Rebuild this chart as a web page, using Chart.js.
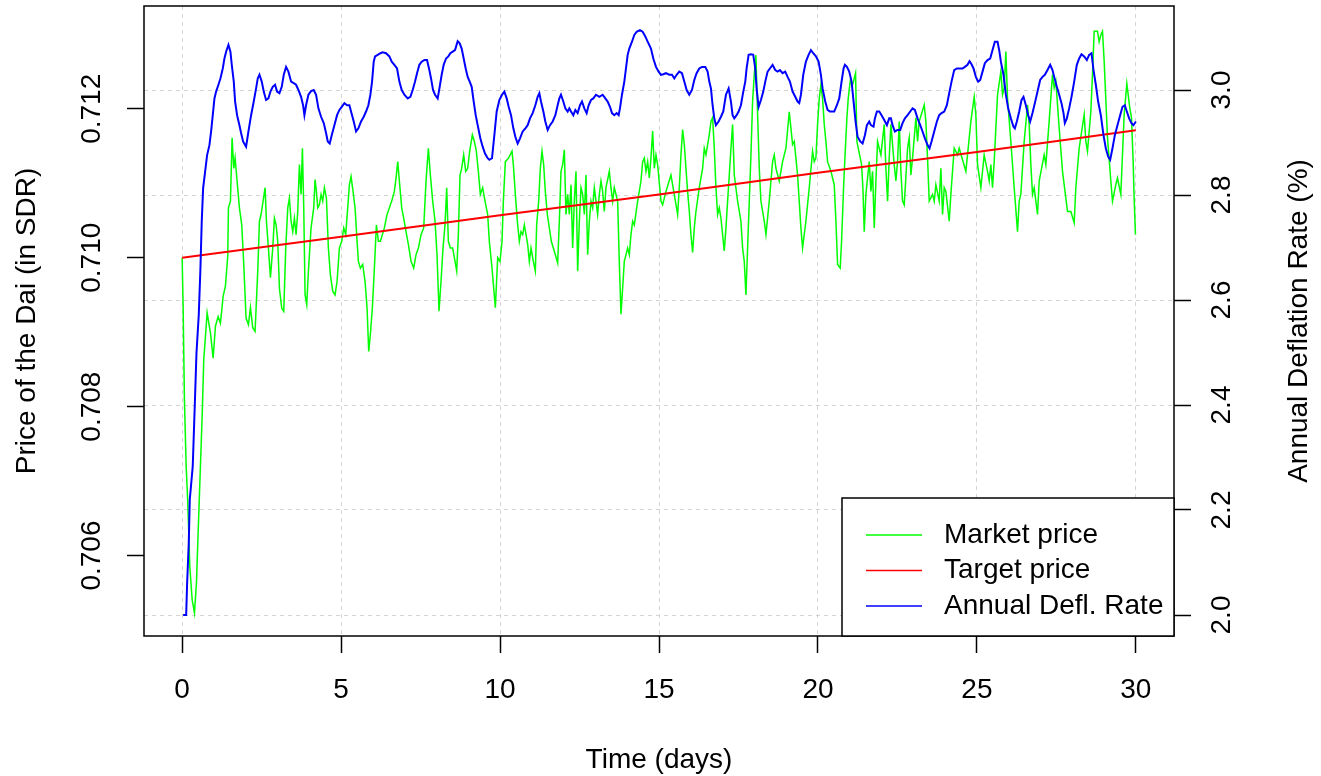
<!DOCTYPE html>
<html>
<head>
<meta charset="utf-8">
<title>Price of the Dai</title>
<script src="https://cdn.jsdelivr.net/npm/chart.js@4.4.1/dist/chart.umd.min.js"></script>
<style>
  html, body { margin: 0; padding: 0; background: #fff; }
  canvas { display: block; }
</style>
</head>
<body>
<canvas id="grafica" width="1321" height="776"></canvas>
<script>
const xTicks = [0, 5, 10, 15, 20, 25, 30];
const priceTicks = [0.706, 0.708, 0.710, 0.712];
const rateTicks = [2.0, 2.2, 2.4, 2.6, 2.8, 3.0];
const seriesNames = ["Market price", "Target price", "Annual Defl. Rate"];

// [day, price in SDR]
const marketPrice = [
  [0.000,0.71000],[0.030,0.70935],[0.072,0.70809],[0.126,0.70720],[0.176,0.70673],[0.240,0.70586],[0.314,0.70541],[0.387,0.70523],[0.450,0.70563],[0.503,0.70631],[0.575,0.70720],[0.629,0.70787],[0.680,0.70863],[0.786,0.70926],[0.890,0.70899],[0.975,0.70865],[1.047,0.70908],[1.132,0.70921],[1.204,0.70912],[1.289,0.70948],[1.362,0.70962],[1.434,0.71002],[1.456,0.71067],[1.519,0.71076],
  [1.571,0.71161],[1.624,0.71120],[1.666,0.71134],[1.728,0.71103],[1.802,0.71067],[1.875,0.71044],[1.938,0.70991],[2.011,0.70919],[2.085,0.70910],[2.148,0.70933],[2.221,0.70906],[2.294,0.70901],[2.378,0.70982],[2.431,0.71049],[2.483,0.71058],[2.546,0.71076],[2.609,0.71094],[2.651,0.71049],[2.714,0.71013],[2.777,0.70973],[2.850,0.71013],[2.902,0.71053],[2.955,0.71044],[3.007,0.71022],[3.060,0.70959],[3.133,0.70932],[3.196,0.70928],[3.259,0.71013],[3.322,0.71067],[3.374,0.71080],[3.426,0.71049],[3.479,0.71035],[3.531,0.71053],[3.584,0.71031],[3.636,0.71062],[3.689,0.71125],[3.741,0.71085],[3.783,0.71147],[3.825,0.71067],[3.867,0.70950],[3.919,0.70937],[3.972,0.70982],[4.055,0.71040],[4.139,0.71067],[4.181,0.71105],[4.223,0.71089],[4.265,0.71067],[4.317,0.71071],[4.370,0.71085],[4.422,0.71076],[4.475,0.71094],[4.538,0.71080],[4.600,0.71013],[4.663,0.70977],[4.737,0.70955],[4.810,0.70950],[4.873,0.70968],[4.946,0.71013],[5.020,0.71022],[5.083,0.71040],[5.146,0.71031],[5.208,0.71067],[5.261,0.71098],[5.313,0.71109],[5.376,0.71089],[5.439,0.71067],[5.502,0.71022],[5.544,0.70995],[5.607,0.70986],[5.680,0.70991],[5.754,0.70968],[5.816,0.70933],[5.869,0.70874],[5.921,0.70897],[5.984,0.70933],[6.047,0.70986],[6.110,0.71044],[6.173,0.71022],[6.236,0.71022],[6.298,0.71031],[6.361,0.71040],[6.445,0.71058],[6.519,0.71067],[6.592,0.71076],[6.676,0.71089],[6.739,0.71111],[6.781,0.71129],[6.833,0.71103],[6.907,0.71067],[6.969,0.71053],[7.043,0.71035],[7.116,0.71018],[7.200,0.70995],[7.284,0.70986],[7.357,0.71004],[7.431,0.71013],[7.515,0.71031],[7.598,0.71040],[7.672,0.71103],[7.745,0.71147],[7.808,0.71111],[7.881,0.71076],[7.955,0.71049],[8.017,0.71004],[8.080,0.70928],[8.143,0.70968],[8.206,0.71013],[8.269,0.71044],[8.322,0.71094],[8.374,0.71022],[8.437,0.71013],[8.510,0.71013],[8.584,0.70995],[8.636,0.70982],[8.688,0.71031],[8.741,0.71111],[8.793,0.71120],[8.856,0.71138],[8.919,0.71116],[8.982,0.71120],[9.045,0.71143],[9.129,0.71165],[9.192,0.71156],[9.254,0.71143],[9.317,0.71116],[9.380,0.71085],[9.453,0.71094],[9.527,0.71076],[9.611,0.71058],[9.663,0.71022],
  [9.747,0.70986],[9.852,0.70933],[9.926,0.71000],[9.999,0.70995],[10.062,0.71022],[10.104,0.71076],[10.167,0.71129],[10.271,0.71134],[10.376,0.71143],[10.418,0.71125],[10.481,0.71085],[10.544,0.71049],[10.607,0.71022],[10.659,0.71035],[10.712,0.71031],[10.764,0.71044],[10.817,0.71031],[10.869,0.71018],[10.921,0.70995],[10.974,0.71013],[11.047,0.70995],[11.110,0.70982],[11.152,0.71044],[11.215,0.71076],[11.267,0.71120],[11.320,0.71143],[11.372,0.71125],[11.424,0.71089],[11.487,0.71058],[11.550,0.71040],[11.613,0.71022],[11.676,0.71013],[11.739,0.71004],[11.812,0.70993],[11.865,0.71049],[11.917,0.71116],[11.970,0.71125],[12.022,0.71145],[12.074,0.71058],[12.127,0.71085],[12.179,0.71058],[12.232,0.71098],[12.284,0.71013],[12.336,0.71076],[12.389,0.71116],[12.441,0.70982],[12.494,0.71049],[12.546,0.71094],[12.599,0.71085],[12.651,0.71058],[12.703,0.71111],[12.756,0.71004],[12.808,0.71049],[12.861,0.71076],[12.913,0.71067],[12.965,0.71094],[13.018,0.71076],[13.070,0.71058],[13.123,0.71085],[13.175,0.71103],[13.227,0.71089],[13.280,0.71062],[13.332,0.71094],[13.437,0.71116],[13.489,0.71094],[13.542,0.71076],[13.594,0.71094],[13.699,0.71076],[13.751,0.70995],[13.804,0.70924],[13.856,0.70959],[13.909,0.70995],[14.014,0.71013],[14.066,0.71004],[14.118,0.71031],[14.171,0.71049],[14.223,0.71044],[14.328,0.71076],[14.433,0.71103],[14.485,0.71129],[14.538,0.71134],[14.590,0.71116],[14.643,0.71129],[14.695,0.71107],[14.747,0.71134],[14.800,0.71170],[14.852,0.71120],[14.905,0.71138],[14.957,0.71125],[15.062,0.71076],[15.114,0.71071],[15.219,0.71089],[15.376,0.71111],[15.481,0.71085],[15.586,0.71058],[15.638,0.71094],[15.691,0.71138],[15.743,0.71172],[15.796,0.71152],[15.848,0.71120],[15.900,0.71089],[15.953,0.71062],[16.005,0.71031],[16.058,0.71007],[16.110,0.71040],[16.162,0.71062],[16.267,0.71094],[16.372,0.71120],[16.424,0.71147],[16.477,0.71138],[16.581,0.71165],[16.634,0.71183],[16.686,0.71188],[16.739,0.71147],[16.791,0.71094],[16.844,0.71058],[16.896,0.71067],[16.949,0.71053],[17.053,0.71009],[17.106,0.71040],[17.158,0.71076],[17.211,0.71111],[17.263,0.71147],[17.315,0.71179],[17.368,0.71111],[17.473,0.71076],[17.577,0.71049],[17.630,0.71013],[17.682,0.70995],[17.735,0.70950],[17.787,0.71013],[17.840,0.71076],[17.892,0.71138],[17.944,0.71210],[17.997,0.71246],[18.049,0.71272],[18.102,0.71192],[18.154,0.71120],[18.206,0.71076],[18.311,0.71049],[18.364,0.71031],[18.468,0.71076],[18.573,0.71129],[18.626,0.71138],[18.678,0.71120],[18.783,0.71103],[18.888,0.71129],[18.993,0.71147],[19.097,0.71196],[19.150,0.71174],[19.202,0.71152],[19.255,0.71156],[19.359,0.71111],[19.464,0.71040],[19.517,0.71013],[19.621,0.71049],[19.726,0.71094],[19.831,0.71143],[19.883,0.71129],[19.936,0.71134],[19.988,0.71179],[20.041,0.71214],[20.093,0.71232],[20.145,0.71214],[20.198,0.71179],[20.250,0.71156],[20.303,0.71129],[20.408,0.71116],[20.512,0.71098],
  [20.565,0.71049],[20.618,0.70991],[20.701,0.70986],[20.743,0.71022],[20.806,0.71094],[20.848,0.71134],[20.911,0.71188],[20.953,0.71214],[21.016,0.71237],[21.089,0.71232],[21.183,0.71248],[21.225,0.71156],[21.330,0.71134],[21.372,0.71125],[21.414,0.71094],[21.456,0.71035],[21.508,0.71085],[21.613,0.71129],[21.666,0.71089],[21.718,0.71116],[21.771,0.71040],[21.823,0.71103],[21.875,0.71156],[21.980,0.71138],[22.085,0.71179],[22.137,0.71120],[22.190,0.71076],[22.242,0.71134],[22.295,0.71179],[22.399,0.71125],[22.452,0.71103],[22.504,0.71129],[22.557,0.71183],[22.609,0.71116],[22.661,0.71076],[22.714,0.71071],[22.819,0.71147],[22.871,0.71161],[22.923,0.71111],[22.976,0.71134],[23.081,0.71188],[23.133,0.71156],[23.185,0.71183],[23.343,0.71205],[23.395,0.71183],[23.447,0.71134],[23.500,0.71076],[23.605,0.71085],[23.657,0.71076],[23.710,0.71098],[23.814,0.71076],[23.867,0.71120],[23.919,0.71058],[23.972,0.71094],[24.024,0.71089],[24.129,0.71049],[24.181,0.71085],[24.286,0.71147],[24.391,0.71138],[24.443,0.71147],[24.653,0.71116],[24.705,0.71138],[24.810,0.71183],[24.915,0.71216],[24.967,0.71192],[25.020,0.71125],[25.125,0.71094],[25.229,0.71138],[25.334,0.71116],[25.387,0.71103],[25.439,0.71125],[25.491,0.71094],[25.544,0.71129],[25.649,0.71219],[25.754,0.71250],[25.806,0.71219],[25.858,0.71228],[25.911,0.71277],[25.963,0.71214],[26.068,0.71156],[26.173,0.71094],[26.278,0.71035],[26.330,0.71076],[26.382,0.71085],[26.487,0.71156],[26.592,0.71205],[26.645,0.71179],[26.697,0.71125],[26.749,0.71085],[26.802,0.71094],[26.907,0.71058],[26.959,0.71103],[27.116,0.71138],[27.169,0.71125],[27.273,0.71183],[27.378,0.71246],[27.431,0.71228],[27.483,0.71237],[27.588,0.71174],[27.693,0.71116],[27.850,0.71062],[27.955,0.71062],[28.060,0.71047],[28.112,0.71094],[28.217,0.71147],[28.374,0.71192],[28.427,0.71156],[28.479,0.71143],[28.584,0.71196],[28.636,0.71246],[28.689,0.71304],[28.793,0.71304],[28.846,0.71290],[28.898,0.71299],[28.951,0.71304],[29.003,0.71264],[29.108,0.71161],[29.213,0.71103],[29.265,0.71076],[29.370,0.71098],[29.422,0.71107],[29.527,0.71085],[29.632,0.71192],[29.716,0.71234],[29.810,0.71201],[29.863,0.71188],[29.915,0.71129],[29.946,0.71080],[29.988,0.71031]
];

const targetPrice = [
  [0,0.71000],[5,0.71028],[10,0.71057],[15,0.71085],[20,0.71114],[25,0.71142],[30,0.71171]
];

// [day, annual deflation rate in %]
const deflRate = [
  [0.030,2.000],[0.126,2.000],[0.157,2.061],[0.208,2.137],[0.239,2.219],[0.333,2.283],[0.396,2.397],[0.450,2.498],[0.522,2.571],[0.575,2.660],[0.616,2.749],[0.660,2.813],[0.722,2.844],[0.785,2.876],[0.858,2.895],[0.911,2.921],[0.963,2.952],[1.016,2.984],[1.068,2.997],[1.141,3.010],[1.204,3.022],[1.278,3.041],[1.330,3.060],[1.383,3.073],[1.456,3.086],[1.519,3.073],[1.561,3.048],[1.624,3.016],[1.666,2.978],[1.728,2.952],[1.802,2.933],[1.854,2.918],[1.917,2.902],[2.011,2.892],[2.085,2.921],[2.169,2.952],[2.252,2.978],[2.326,3.003],[2.378,3.022],[2.431,3.029],[2.504,3.016],[2.567,2.997],[2.640,2.981],[2.714,2.984],[2.777,2.997],[2.850,3.006],[2.923,3.010],[2.986,2.997],[3.060,2.994],[3.133,3.006],[3.196,3.029],[3.269,3.044],[3.343,3.035],[3.427,3.016],[3.510,3.013],[3.584,3.010],[3.657,3.000],[3.741,2.987],[3.804,2.971],[3.846,2.952],[3.898,2.971],[3.972,2.991],[4.055,2.998],[4.139,3.000],[4.213,2.991],[4.286,2.965],[4.370,2.949],[4.454,2.937],[4.527,2.918],[4.580,2.902],[4.642,2.898],[4.705,2.914],[4.789,2.933],[4.873,2.952],[4.946,2.962],[5.020,2.968],[5.104,2.975],[5.188,2.971],[5.261,2.971],[5.313,2.959],[5.397,2.940],[5.471,2.921],[5.544,2.927],[5.628,2.940],[5.712,2.949],[5.785,2.959],[5.858,2.971],[5.921,2.991],[5.974,3.016],[6.026,3.054],[6.068,3.064],[6.152,3.067],[6.236,3.070],[6.309,3.072],[6.414,3.070],[6.519,3.064],[6.592,3.054],[6.676,3.048],[6.760,3.041],[6.833,3.016],[6.907,3.000],[6.990,2.991],[7.095,2.984],[7.179,2.987],[7.252,3.000],[7.326,3.016],[7.389,3.032],[7.462,3.048],[7.535,3.054],[7.619,3.057],[7.703,3.057],[7.776,3.038],[7.829,3.022],[7.892,3.000],[7.955,2.991],[8.038,2.984],[8.101,3.006],[8.164,3.029],[8.227,3.048],[8.301,3.060],[8.374,3.064],[8.437,3.070],[8.510,3.073],[8.584,3.076],[8.667,3.093],[8.730,3.089],[8.793,3.079],[8.856,3.060],[8.919,3.041],[8.982,3.025],[9.045,3.016],[9.108,3.006],[9.171,2.978],[9.234,2.952],[9.296,2.933],[9.380,2.908],[9.453,2.892],[9.527,2.879],[9.611,2.870],[9.663,2.867],
  [9.747,2.870],[9.821,2.914],[9.894,2.959],[9.978,2.981],[10.062,2.991],[10.135,2.997],[10.209,2.984],[10.271,2.968],[10.345,2.952],[10.418,2.927],[10.481,2.911],[10.554,2.898],[10.628,2.908],[10.712,2.921],[10.796,2.927],[10.869,2.933],[10.942,2.946],[11.026,2.956],[11.110,2.971],[11.183,2.987],[11.236,2.994],[11.288,2.978],[11.362,2.959],[11.424,2.940],[11.498,2.924],[11.571,2.933],[11.655,2.940],[11.739,2.952],[11.812,2.971],[11.865,2.984],[11.917,2.991],[11.990,2.978],[12.053,2.965],[12.127,2.959],[12.179,2.965],[12.232,2.959],[12.305,2.952],[12.368,2.962],[12.441,2.956],[12.515,2.971],[12.578,2.978],[12.651,2.965],[12.724,2.956],[12.787,2.971],[12.861,2.981],[12.934,2.984],[13.018,2.991],[13.123,2.987],[13.227,2.991],[13.311,2.984],[13.385,2.978],[13.458,2.968],[13.521,2.956],[13.594,2.952],[13.668,2.956],[13.731,2.952],[13.772,2.965],[13.835,2.991],[13.909,3.016],[13.961,3.041],[14.014,3.067],[14.066,3.079],[14.150,3.092],[14.223,3.105],[14.297,3.111],[14.401,3.114],[14.485,3.111],[14.569,3.102],[14.643,3.092],[14.747,3.079],[14.821,3.060],[14.905,3.044],[14.988,3.035],[15.062,3.029],[15.135,3.030],[15.219,3.032],[15.324,3.029],[15.408,3.029],[15.481,3.022],[15.555,3.029],[15.638,3.035],[15.722,3.032],[15.796,3.016],[15.869,3.000],[15.953,2.991],[16.037,3.000],[16.110,3.019],[16.183,3.032],[16.267,3.041],[16.351,3.044],[16.456,3.044],[16.529,3.035],[16.582,3.016],[16.634,3.003],[16.686,2.971],[16.739,2.946],[16.791,2.933],[16.875,2.940],[16.949,2.949],[17.022,2.959],[17.106,2.991],[17.190,3.003],[17.263,2.978],[17.315,2.952],[17.368,2.946],[17.441,2.952],[17.504,2.959],[17.577,2.971],[17.651,2.997],[17.714,3.016],[17.756,3.041],[17.819,3.067],[17.892,3.068],[17.965,3.067],[18.028,3.041],[18.070,3.003],[18.133,2.968],[18.206,2.981],[18.280,2.997],[18.343,3.016],[18.416,3.035],[18.489,3.041],[18.573,3.048],[18.657,3.038],[18.730,3.035],[18.804,3.038],[18.888,3.032],[18.971,3.035],[19.045,3.025],[19.118,3.016],[19.202,2.997],[19.286,2.987],[19.359,2.978],[19.412,2.975],[19.464,2.991],[19.538,3.029],[19.621,3.054],[19.705,3.067],[19.779,3.076],[19.852,3.070],[19.936,3.064],[20.020,3.054],[20.093,3.029],[20.145,3.003],[20.229,2.978],[20.303,2.962],[20.376,2.959],[20.512,2.959],
  [20.596,2.971],[20.670,2.984],[20.743,3.016],[20.806,3.041],[20.848,3.048],[20.911,3.044],[20.984,3.035],[21.058,3.016],[21.121,2.978],[21.183,2.940],[21.246,2.911],[21.330,2.902],[21.404,2.898],[21.477,2.914],[21.540,2.933],[21.613,2.940],[21.666,2.933],[21.749,2.930],[21.791,2.946],[21.854,2.959],[21.928,2.959],[22.001,2.952],[22.085,2.943],[22.169,2.933],[22.242,2.946],[22.295,2.946],[22.347,2.933],[22.420,2.921],[22.504,2.924],[22.588,2.924],[22.661,2.937],[22.735,2.946],[22.819,2.952],[22.902,2.959],[22.976,2.965],[23.049,2.962],[23.133,2.946],[23.217,2.933],[23.290,2.921],[23.364,2.908],[23.448,2.895],[23.510,2.889],[23.573,2.902],[23.657,2.921],[23.741,2.940],[23.814,2.952],[23.888,2.956],[23.972,2.959],[24.055,2.971],[24.129,2.994],[24.202,3.016],[24.286,3.038],[24.370,3.041],[24.548,3.041],[24.621,3.044],[24.705,3.048],[24.768,3.055],[24.831,3.049],[24.894,3.041],[24.967,3.025],[25.041,3.016],[25.104,3.019],[25.177,3.035],[25.250,3.051],[25.334,3.057],[25.418,3.060],[25.492,3.076],[25.565,3.092],[25.649,3.092],[25.701,3.076],[25.754,3.054],[25.837,3.029],[25.911,2.991],[25.984,2.965],[26.068,2.946],[26.152,2.930],[26.194,2.927],[26.257,2.940],[26.330,2.959],[26.404,2.981],[26.466,2.987],[26.540,2.971],[26.613,2.952],[26.676,2.940],[26.749,2.956],[26.823,2.975],[26.907,2.997],[26.990,3.019],[27.064,3.025],[27.137,3.029],[27.221,3.038],[27.305,3.048],[27.378,3.038],[27.431,3.025],[27.515,3.006],[27.588,2.991],[27.661,2.975],[27.724,2.956],[27.766,2.937],[27.829,2.946],[27.902,2.965],[27.976,2.987],[28.060,3.016],[28.143,3.048],[28.217,3.060],[28.290,3.068],[28.374,3.064],[28.458,3.057],[28.531,3.067],[28.605,3.070],[28.668,3.038],[28.741,3.010],[28.814,2.978],[28.898,2.952],[28.982,2.914],[29.055,2.889],[29.129,2.873],[29.192,2.867],[29.265,2.889],[29.339,2.914],[29.422,2.933],[29.506,2.952],[29.580,2.968],[29.653,2.971],[29.716,2.959],[29.789,2.946],[29.863,2.937],[29.925,2.933],[30.000,2.940]
];

const FONT = '28px "Liberation Sans", Arial, sans-serif';
const colores = ["#00ff00", "#ff0000", "#0000ff"];

function textoVertical(ctx, txt, x, y) {
    ctx.save();
    ctx.translate(x, y);
    ctx.rotate(-Math.PI / 2);
    ctx.fillText(txt, 0, 0);
    ctx.restore();
}

// R-style box, rotated tick labels, axis titles and legend
const marcoR = {
    id: "marcoR",
    afterDraw(chart) {
        const { ctx, chartArea: a, scales } = chart;
        ctx.save();
        ctx.strokeStyle = "#000";
        ctx.lineWidth = 1.5;
        ctx.strokeRect(a.left, a.top, a.right - a.left, a.bottom - a.top);

        ctx.fillStyle = "#000";
        ctx.font = FONT;
        ctx.textAlign = "center";
        ctx.textBaseline = "middle";
        xTicks.forEach(v => ctx.fillText(String(v), scales.x.getPixelForValue(v), a.bottom + 54));
        priceTicks.forEach(v => textoVertical(ctx, v.toFixed(3), a.left - 52, scales.yPrice.getPixelForValue(v)));
        rateTicks.forEach(v => textoVertical(ctx, v.toFixed(1), a.right + 48, scales.yRate.getPixelForValue(v)));

        const midY = (a.top + a.bottom) / 2;
        ctx.fillText("Time (days)", (a.left + a.right) / 2, a.bottom + 124);
        textoVertical(ctx, "Price of the Dai (in SDR)", 27, midY);
        textoVertical(ctx, "Annual Deflation Rate (%)", a.right + 125, midY);

        // legend, bottom right
        const lw = 332, lh = 138;
        const lx = a.right - lw, ly = a.bottom - lh;
        ctx.fillStyle = "#fff";
        ctx.fillRect(lx, ly, lw, lh);
        ctx.strokeStyle = "#000";
        ctx.lineWidth = 1.5;
        ctx.strokeRect(lx, ly, lw, lh);
        ctx.textAlign = "left";
        chart.data.datasets.forEach((ds, i) => {
            const yy = ly + 37 + i * 35.5;
            ctx.strokeStyle = ds.borderColor;
            ctx.lineWidth = 1.5;
            ctx.beginPath();
            ctx.moveTo(lx + 24, yy);
            ctx.lineTo(lx + 80, yy);
            ctx.stroke();
            ctx.fillStyle = "#000";
            ctx.fillText(ds.label, lx + 102, yy);
        });
        ctx.restore();
    }
};

const aPuntos = arr => arr.map(p => ({ x: p[0], y: p[1] }));
const fijarTicks = lista => s => { s.ticks = lista.map(v => ({ value: v })); };

const ctx = document.getElementById("grafica").getContext("2d");

new Chart(ctx, {
    type: "line",
    data: {
        datasets: [
            { label: seriesNames[0], data: aPuntos(marketPrice), yAxisID: "yPrice", borderColor: colores[0], borderWidth: 1.5, order: 3 },
            { label: seriesNames[1], data: aPuntos(targetPrice), yAxisID: "yPrice", borderColor: colores[1], borderWidth: 2, order: 2 },
            { label: seriesNames[2], data: aPuntos(deflRate), yAxisID: "yRate", borderColor: colores[2], borderWidth: 2, order: 1 }
        ]
    },
    options: {
        responsive: false,
        animation: false,
        events: [],
        layout: { padding: { top: 6, left: 0, right: 0, bottom: 0 } },
        elements: { point: { radius: 0 }, line: { tension: 0, fill: false } },
        plugins: { legend: { display: false }, tooltip: { enabled: false } },
        scales: {
            x: {
                type: "linear", position: "bottom", min: -1.2, max: 31.2,
                afterBuildTicks: fijarTicks(xTicks),
                afterFit: s => { s.height = 140; },
                ticks: { display: false },
                grid: { color: "#d3d3d3", lineWidth: 1, tickLength: 17, tickColor: "#000", tickWidth: 1.5 },
                border: { display: false, dash: [4, 4] }
            },
            yPrice: {
                type: "linear", position: "left", min: 0.70492, max: 0.71338,
                afterBuildTicks: fijarTicks(priceTicks),
                afterFit: s => { s.width = 144; },
                ticks: { display: false },
                grid: { drawOnChartArea: false, tickLength: 17, tickColor: "#000", tickWidth: 1.5 },
                border: { display: false }
            },
            yRate: {
                type: "linear", position: "right", min: 1.96, max: 3.16,
                afterBuildTicks: fijarTicks(rateTicks),
                afterFit: s => { s.width = 147; },
                ticks: { display: false },
                grid: { color: "#d3d3d3", lineWidth: 1, tickLength: 17, tickColor: "#000", tickWidth: 1.5 },
                border: { display: false, dash: [4, 4] }
            }
        }
    },
    plugins: [marcoR]
});
</script>
</body>
</html>
